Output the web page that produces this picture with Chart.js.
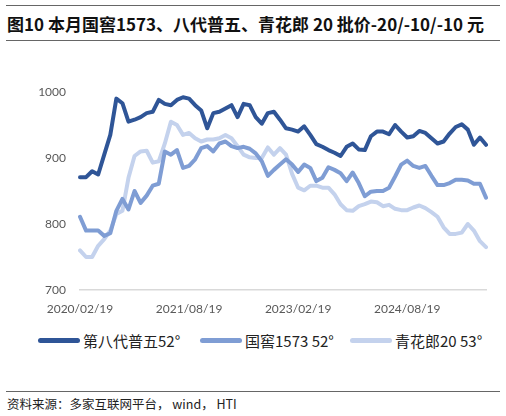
<!DOCTYPE html>
<html>
<head>
<meta charset="utf-8">
<script src="https://cdn.jsdelivr.net/npm/chart.js@4"></script>
<style>
  html, body { margin: 0; padding: 0; background: #fff; }
  #wrap { position: relative; width: 506px; height: 416px; overflow: hidden; }
  .rule { position: absolute; left: 6px; width: 494px; border-top: 1px solid #666; }
  #title { position: absolute; left: 7px; top: 11px; font: bold 17px "Noto Sans CJK SC", sans-serif; color: #111; white-space: nowrap; }
  #src { position: absolute; left: 7px; top: 394px; font: 12.5px "Noto Sans CJK SC", sans-serif; color: #222; white-space: nowrap; }
  #box { position: absolute; left: 0; top: 60px; width: 506px; height: 260px; }
  .lg { position: absolute; top: 330px; height: 20px; display: flex; align-items: center; font: 15px "Noto Sans CJK SC", sans-serif; color: #222; white-space: nowrap; }
  .lg i { display: inline-block; width: 42px; height: 5px; border-radius: 3px; margin-right: 3px; }
</style>
</head>
<body>
<div id="wrap">
  <div class="rule" style="top:5px"></div>
  <div id="title">图10 本月国窖1573、八代普五、青花郎 20 批价-20/-10/-10 元</div>
  <div class="rule" style="top:40px"></div>
  <div id="box"><canvas id="myChart"></canvas></div>
  <div id="legend"></div>
  <div class="rule" style="top:391px"></div>
  <div id="src">资料来源：多家互联网平台， wind， HTI</div>
</div>
<script>
// monthly, 2020/02/19 .. 2025/09/19
const dates = [];
for (let i = 0; i < 68; i++) {
  const m = 1 + i;           // months since 2020/01
  const y = 2020 + Math.floor(m / 12);
  const mm = (m % 12) + 1;
  dates.push(y + '/' + String(mm).padStart(2, '0') + '/19');
}

const wuliangye = [871, 871, 880, 875, 905, 935, 990, 983, 955, 958,
  962, 968, 970, 988, 982, 980, 988, 992, 990, 980,
  972, 945, 968, 970, 975, 980, 962, 982, 980, 962,
  952, 968, 970, 958, 945, 943, 940, 948, 935, 921,
  917, 912, 908, 903, 917, 922, 913, 912, 933, 940,
  940, 936, 950, 940, 931, 933, 941, 938, 930, 922,
  925, 937, 947, 951, 943, 920, 931, 920];

const guojiao = [811, 790, 790, 790, 782, 786, 820, 838, 822, 850,
  832, 843, 858, 861, 910, 905, 912, 885, 888, 898,
  915, 918, 910, 922, 925, 918, 915, 917, 914, 907,
  895, 873, 882, 890, 898, 890, 879, 890, 885, 865,
  870, 886, 882, 877, 865, 878, 862, 842, 849, 850,
  850, 855, 872, 890, 896, 888, 885, 888, 873, 859,
  859, 862, 867, 867, 866, 861, 861, 840];

const qinghualang = [760, 750, 750, 767, 777, 790, 815, 820, 870, 903,
  910, 911, 893, 895, 922, 955, 950, 935, 938, 930,
  925, 928, 928, 930, 935, 930, 918, 905, 901, 900,
  900, 916, 905, 915, 905, 876, 855, 851, 858, 858,
  855, 855, 845, 830, 821, 820, 827, 830, 834, 833,
  827, 829, 823, 821, 821, 825, 828, 824, 818, 811,
  795, 785, 785, 787, 800, 790, 774, 765];

const yTicks = [700, 800, 900, 1000];
const tickEvery = 18;

const ctx = document.getElementById('myChart').getContext('2d');
const myChart = new Chart(ctx, {
    type: 'line',
    data: {
        labels: dates,
        datasets: [{
            label: '第八代普五52°',
            data: wuliangye,
            borderColor: '#2f5597',
            backgroundColor: '#2f5597'
        }, {
            label: '国窖1573 52°',
            data: guojiao,
            borderColor: '#7f9dd4',
            backgroundColor: '#7f9dd4'
        }, {
            label: '青花郎20 53°',
            data: qinghualang,
            borderColor: '#c4d2ed',
            backgroundColor: '#c4d2ed'
        }]
    },
    options: {
        responsive: true,
        maintainAspectRatio: false,
        animation: false,
        layout: { padding: { top: 32, right: 20, left: 0, bottom: 0 } },
        elements: {
            line: { borderWidth: 4, tension: 0, borderJoinStyle: 'round', borderCapStyle: 'round' },
            point: { radius: 0 }
        },
        plugins: {
            tooltip: { enabled: false },
            legend: { display: false }
        },
        scales: {
            x: {
                grid: { display: false, drawTicks: false },
                border: { display: true, color: '#d9d9d9', width: 1.5 },
                afterFit: (s) => { s.height = 30; },
                ticks: {
                    autoSkip: false,
                    maxRotation: 0,
                    padding: 12,
                    color: '#595959',
                    font: { size: 12, family: 'Lato' },
                    callback: function (v, i) { return i % tickEvery === 0 ? this.getLabelForValue(v) : null; }
                }
            },
            y: {
                min: 700,
                max: 1000,
                grid: { display: false, drawTicks: false },
                border: { display: false },
                afterFit: (s) => { s.width = 80; },
                afterBuildTicks: (s) => { s.ticks = yTicks.map(v => ({ value: v })); },
                ticks: {
                    padding: 14,
                    color: '#595959',
                    font: { size: 12, family: 'Lato' },
                    callback: (v) => String(v)
                }
            }
        }
    }
});

// legend below the axis, built from the datasets
const legendLeft = [38, 200, 350];
const legendEl = document.getElementById('legend');
myChart.data.datasets.forEach((ds, i) => {
    const item = document.createElement('div');
    item.className = 'lg';
    item.style.left = legendLeft[i] + 'px';
    item.innerHTML = '<i style="background:' + ds.borderColor + '"></i>' + ds.label;
    legendEl.appendChild(item);
});
</script>
</body>
</html>
